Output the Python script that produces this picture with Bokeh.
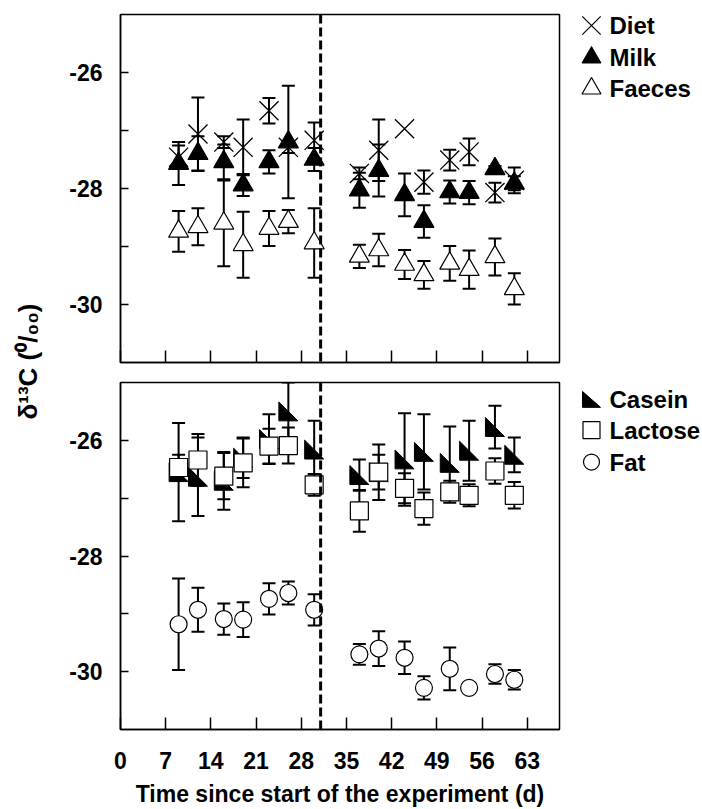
import numpy as np
from bokeh.plotting import figure
from bokeh.models import Range1d, FixedTicker, Span, Whisker, TeeHead, ColumnDataSource
from bokeh.layouts import row, column
from bokeh.embed import file_html
from bokeh.resources import INLINE
from bokeh.core.properties import value

# ---------------- data ----------------
days = [9, 12, 16, 19, 23, 26, 30, 37, 40, 44, 47, 51, 54, 58, 61]

diet = [-27.46, -27.06, -27.20, -27.29, -26.66, -27.29, -27.17, -27.74, -27.34, -26.97, -27.89, -27.51, -27.37, -28.07, -27.86]
diet_sd = [0.20, 0.63, 0.10, 0.48, 0.22, 0.10, 0.31, 0.10, 0.53, 0.0, 0.20, 0.18, 0.23, 0.17, 0.22]
milk = [-27.57, -27.40, -27.54, -27.94, -27.54, -27.20, -27.50, -28.03, -27.69, -28.11, -28.57, -28.06, -28.07, -27.66, -27.91]
milk_sd = [0.37, 0.30, 0.30, 0.19, 0.20, 0.97, 0.20, 0.30, 0.45, 0.37, 0.28, 0.20, 0.20, 0.05, 0.12]
faeces = [-28.74, -28.66, -28.60, -28.97, -28.69, -28.57, -28.94, -29.17, -29.06, -29.31, -29.49, -29.29, -29.40, -29.18, -29.73]
faeces_sd = [0.35, 0.32, 0.74, 0.57, 0.30, 0.20, 0.60, 0.20, 0.28, 0.25, 0.24, 0.30, 0.33, 0.32, 0.27]

casein = [-26.55, -26.63, -26.70, -26.30, -25.98, -25.50, -26.16, -26.60, -26.55, -26.33, -26.20, -26.39, -26.18, -25.77, -26.25]
casein_sd = [0.85, 0.68, 0.50, 0.35, 0.43, 0.50, 0.50, 0.27, 0.48, 0.80, 0.65, 0.63, 0.52, 0.37, 0.30]
lactose = [-26.47, -26.34, -26.62, -26.39, -26.10, -26.09, -26.77, -27.22, -26.55, -26.83, -27.18, -26.89, -26.95, -26.53, -26.95]
lactose_sd = [0.22, 0.45, 0.40, 0.42, 0.30, 0.31, 0.19, 0.36, 0.30, 0.26, 0.28, 0.19, 0.19, 0.22, 0.23]
fat = [-29.18, -28.93, -29.09, -29.10, -28.74, -28.64, -28.93, -29.70, -29.60, -29.76, -30.28, -29.95, -30.28, -30.04, -30.14]
fat_sd = [0.79, 0.38, 0.27, 0.30, 0.27, 0.20, 0.27, 0.18, 0.30, 0.28, 0.20, 0.37, 0.0, 0.17, 0.17]

x_ticks = [0, 7, 14, 21, 28, 35, 42, 49, 56, 63]
y_ticks = [-30, -28, -26]
y_tick_labels = ["-30", "-28", "-26"]
y_minor_ticks = [-29, -27]
x_limits = (0, 68)
y_limits = (-31, -25)
switch_day = 31

top_names = ["Diet", "Milk", "Faeces"]
bottom_names = ["Casein", "Lactose", "Fat"]
x_title = "Time since start of the experiment (d)"
y_title = "δ¹³C (⁰/₀₀)"

# ---------------- layout constants ----------------
FONT = "Liberation Sans"
LAB_W = 60
PANEL_W = 501
LEG_W = 141
TOP_H = 372
BOT_H = 437
TOP_B = (14, 10)
BOT_B = (10, 78)
FRAME_W = PANEL_W - 60 - 2
FRAME_H_TOP = TOP_H - sum(TOP_B)
FRAME_H_BOT = BOT_H - sum(BOT_B)


def whisker_for(p, xs, ys, sds):
    xx = [x for x, s in zip(xs, sds) if s > 0]
    up = [y + s for y, s in zip(ys, sds) if s > 0]
    lo = [y - s for y, s in zip(ys, sds) if s > 0]
    src = ColumnDataSource(dict(x=xx, upper=up, lower=lo))
    w = Whisker(base="x", upper="upper", lower="lower", source=src, dimension="height",
                line_color="black", line_width=2,
                upper_head=TeeHead(size=13, line_width=2, line_color="black"),
                lower_head=TeeHead(size=13, line_width=2, line_color="black"))
    p.add_layout(w)


def make_panel(height, borders, with_labels):
    p = figure(width=PANEL_W, height=height, x_range=Range1d(*x_limits), y_range=Range1d(*y_limits),
               output_backend="svg", toolbar_location=None,
               min_border_left=60, min_border_right=2, min_border_top=borders[0], min_border_bottom=borders[1])
    p.grid.visible = False
    p.outline_line_color = "black"
    p.outline_line_width = 1.5
    p.border_fill_color = "white"
    p.background_fill_color = "white"

    xa = p.xaxis[0]
    xa.major_tick_in = 12
    xa.major_tick_out = 0
    xa.minor_tick_in = 12
    xa.minor_tick_out = 0
    xa.axis_line_width = 1.5
    xa.major_tick_line_width = 1.5
    xa.minor_tick_line_width = 1.5
    xa.axis_line_color = "black"
    xa.major_tick_line_color = "black"
    xa.minor_tick_line_color = "black"
    if with_labels:
        xa.ticker = FixedTicker(ticks=x_ticks)
        xa.major_label_text_font = FONT
        xa.major_label_text_font_size = "23px"
        xa.major_label_text_font_style = "bold"
        xa.major_label_text_color = "black"
        xa.major_label_standoff = 22
        xa.axis_label = x_title
        xa.axis_label_text_font = FONT
        xa.axis_label_text_font_size = "23px"
        xa.axis_label_text_font_style = "bold"
        xa.axis_label_text_color = "black"
        xa.axis_label_standoff = 9
    else:
        # unlabelled axis: same tick positions, drawn as (unlabelled) minor ticks
        xa.ticker = FixedTicker(ticks=[], minor_ticks=x_ticks)
        xa.major_label_standoff = 0

    ya = p.yaxis[0]
    ya.ticker = FixedTicker(ticks=y_ticks, minor_ticks=y_minor_ticks)
    ya.major_label_overrides = {t: l for t, l in zip(y_ticks, y_tick_labels)}
    ya.major_tick_in = 8
    ya.major_tick_out = 0
    ya.minor_tick_in = 8
    ya.minor_tick_out = 0
    ya.axis_line_width = 1.5
    ya.major_tick_line_width = 1.5
    ya.minor_tick_line_width = 1.5
    ya.axis_line_color = "black"
    ya.major_tick_line_color = "black"
    ya.minor_tick_line_color = "black"
    ya.major_label_text_font = FONT
    ya.major_label_text_font_size = "23px"
    ya.major_label_text_font_style = "bold"
    ya.major_label_text_color = "black"
    ya.major_label_standoff = 18

    p.add_layout(Span(location=switch_day, dimension="height", line_color="black",
                      line_width=3, line_dash="9 4"))
    return p


# ---------------- top panel ----------------
top = make_panel(TOP_H, TOP_B, False)
whisker_for(top, days, diet, diet_sd)
whisker_for(top, days, milk, milk_sd)
whisker_for(top, days, faeces, faeces_sd)
top.scatter(days, faeces, marker="triangle", size=20, fill_color="white", line_color="black", line_width=1.2)
top.scatter(days, diet, marker="x", size=27, line_color="black", line_width=1.3)
top.scatter(days, milk, marker="triangle", size=20, fill_color="black", line_color="black", line_width=1.2)

# ---------------- bottom panel ----------------
bot = make_panel(BOT_H, BOT_B, True)
whisker_for(bot, days, casein, casein_sd)
whisker_for(bot, days, lactose, lactose_sd)
whisker_for(bot, days, fat, fat_sd)

half = 9.5
dx = half * (x_limits[1] - x_limits[0]) / FRAME_W
dy = half * (y_limits[1] - y_limits[0]) / FRAME_H_BOT
cas_xs = [[d - dx, d - dx, d + dx] for d in days]
cas_ys = [[v + dy, v - dy, v - dy] for v in casein]
bot.patches(cas_xs, cas_ys, fill_color="black", line_color="black", line_width=1)
bot.scatter(days, lactose, marker="square", size=18, fill_color="white", line_color="black", line_width=1.2)
bot.scatter(days, fat, marker="circle", size=17, fill_color="white", line_color="black", line_width=1.2)


# ---------------- legends (figures whose frame lines up with the panel frame) ----------------
def make_legend_fig(height, borders):
    fh = height - sum(borders)
    f = figure(width=LEG_W, height=height, x_range=Range1d(0, LEG_W), y_range=Range1d(0, fh),
               output_backend="svg", toolbar_location=None,
               min_border_left=0, min_border_right=0, min_border_top=borders[0], min_border_bottom=borders[1])
    f.axis.visible = False
    f.grid.visible = False
    f.outline_line_color = None
    f.border_fill_color = "white"
    return f, fh


mk_x = 30
tx_x = 48

leg_top, fh_t = make_legend_fig(TOP_H, TOP_B)
ly = [fh_t - (r - TOP_B[0]) for r in [25, 57, 88]]
leg_top.scatter([mk_x], [ly[0]], marker="x", size=26, line_color="black", line_width=1.2)
leg_top.scatter([mk_x], [ly[1]], marker="triangle", size=19, fill_color="black", line_color="black")
leg_top.scatter([mk_x], [ly[2]], marker="triangle", size=19, fill_color="white", line_color="black", line_width=1.2)
leg_top.text([tx_x] * 3, ly, text=top_names, text_font=value(FONT), text_font_size="24px",
             text_font_style="bold", text_baseline="middle", text_align="left", text_color="black")

leg_bot, fh_b = make_legend_fig(BOT_H, BOT_B)
lb = [fh_b - (r - (TOP_H + BOT_B[0])) for r in [399, 430, 462]]
leg_bot.patches([[mk_x - 9, mk_x - 9, mk_x + 9]], [[lb[0] + 8, lb[0] - 8, lb[0] - 8]],
                fill_color="black", line_color="black")
leg_bot.scatter([mk_x], [lb[1]], marker="square", size=17, fill_color="white", line_color="black", line_width=1.2)
leg_bot.scatter([mk_x], [lb[2]], marker="circle", size=16, fill_color="white", line_color="black", line_width=1.2)
leg_bot.text([tx_x] * 3, lb, text=bottom_names, text_font=value(FONT), text_font_size="24px",
             text_font_style="bold", text_baseline="middle", text_align="left", text_color="black")

# ---------------- y title ----------------
ylab = figure(width=LAB_W, height=TOP_H + BOT_H, x_range=Range1d(0, LAB_W), y_range=Range1d(0, TOP_H + BOT_H),
              output_backend="svg", toolbar_location=None, min_border=0)
ylab.axis.visible = False
ylab.grid.visible = False
ylab.outline_line_color = None
ylab.border_fill_color = "white"
ylab.text([27], [TOP_H + BOT_H - 361], text=[y_title], angle=np.pi / 2, text_font=value(FONT),
          text_font_size="26px", text_font_style="bold", text_align="center", text_baseline="middle",
          text_color="black")

layout = row(ylab, column(row(top, leg_top), row(bot, leg_bot)))

open("out.html", "w").write(file_html(layout, INLINE))
